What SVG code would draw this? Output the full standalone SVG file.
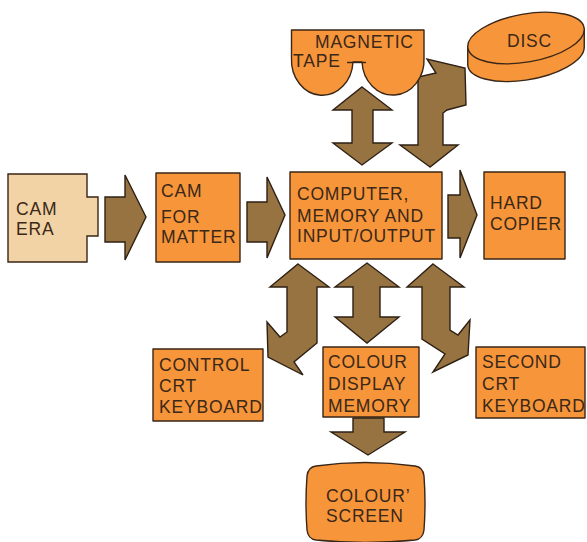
<svg xmlns="http://www.w3.org/2000/svg" width="587" height="542" viewBox="0 0 587 542">
<style>
.box{fill:#f7953b;stroke:#3a2616;stroke-width:1.4;stroke-linejoin:round}
.cam{fill:#f2d3a5;stroke:#3a2616;stroke-width:1.4}
.arrow{fill:#977341;stroke:#2e2014;stroke-width:1.4;stroke-linejoin:miter}
.t{font-family:"Liberation Sans",Arial,sans-serif;font-size:17.5px;letter-spacing:0.8px;fill:#3a2818}
</style>
<rect width="587" height="542" fill="#ffffff"/>
<g id="connectors">
<polygon class="arrow" points="105,197 125,197 125,175 146,217 125,260 125,242 105,242"/>
<polygon class="arrow" points="247,202 267,202 267,177 285,215 267,258 267,242 247,242"/>
<polygon class="arrow" points="448,195 460,195 460,170 477,215 460,258 460,238 448,238"/>
<polygon class="arrow" points="362,87 392,110 373,110 373,143 392,143 362,165 333,143 352,143 352,110 333,110"/>
<polygon class="arrow" points="430,167 400,145 418,145 418,77 436,73 427,59 465,68 466,105 447,110 443,113 443,145 458,145"/>
<polygon class="arrow" points="298,264 329,287 317,287 317,343 294,362 303,375 268,357 267,322 280,337 287,332 287,287 270,287"/>
<polygon class="arrow" points="367,263 399,287 380,287 380,317 399,317 367,343 335,317 353,317 353,287 335,287"/>
<polygon class="arrow" points="433,264 464,287 450,287 450,330 458,335 470,320 468,355 433,372 445,354 422,339 422,287 407,287"/>
<polygon class="arrow" points="353,418 384,418 384,432 405,432 368,455 331,432 353,432"/>
</g>
<g id="camera">
<path class="cam" d="M8,174 H87 V197 H98 V236 H87 V262 H8 Z"/>
<text class="t" x="16" y="215">CAM</text>
<text class="t" x="16" y="235">ERA</text>
</g>
<g id="camformatter">
<rect class="box" x="156" y="173" width="84" height="89"/>
<text class="t" x="161" y="197">CAM</text>
<text class="t" x="161" y="223">FOR</text>
<text class="t" x="161" y="243">MATTER</text>
</g>
<g id="computer">
<rect class="box" x="290" y="172" width="152" height="87"/>
<text class="t" x="297" y="200">COMPUTER,</text>
<text class="t" x="297" y="222">MEMORY AND</text>
<text class="t" x="297" y="242">INPUT/OUTPUT</text>
</g>
<g id="hardcopier">
<rect class="box" x="484" y="172" width="81" height="87"/>
<text class="t" x="490" y="209">HARD</text>
<text class="t" x="490" y="230">COPIER</text>
</g>
<g id="magnetictape">
<path class="box" d="M291.5,30 H424 V58 A31,35 0 0 1 362,62 L353,62 A30.5,35 0 0 1 291.5,58 Z"/>
<line x1="347" y1="62.5" x2="366" y2="62.5" stroke="#3a2616" stroke-width="1.4"/>
<text class="t" x="315" y="48">MAGNETIC</text>
<text class="t" x="293" y="67">TAPE</text>
</g>
<g id="disc">
<path class="box" d="M467.75,46.5 L467.75,64.5 A59,24 -10 0 0 584.25,47.5 L584.25,29.5 Z"/>
<ellipse class="box" cx="526" cy="38" rx="59" ry="24" transform="rotate(-10 526 38)"/>
<text class="t" x="507" y="47">DISC</text>
</g>
<g id="controlcrt">
<rect class="box" x="153" y="349" width="110" height="72"/>
<text class="t" x="159" y="371">CONTROL</text>
<text class="t" x="159" y="392">CRT</text>
<text class="t" x="159" y="413">KEYBOARD</text>
</g>
<g id="colourdisplay">
<rect class="box" x="323" y="347" width="96" height="70"/>
<text class="t" x="328" y="368">COLOUR</text>
<text class="t" x="328" y="390">DISPLAY</text>
<text class="t" x="328" y="412">MEMORY</text>
</g>
<g id="secondcrt">
<rect class="box" x="476" y="347" width="109" height="71"/>
<text class="t" x="482" y="368">SECOND</text>
<text class="t" x="482" y="390">CRT</text>
<text class="t" x="482" y="412">KEYBOARD</text>
</g>
<g id="colourscreen">
<path class="box" d="M316,466 Q365,459 415,466 Q423,467 424,476 Q426,503 424,530 Q423,539 415,540 Q365,545 316,540 Q308,539 307,530 Q305,503 307,476 Q308,467 316,466 Z"/>
<text class="t" x="326" y="502">COLOUR’</text>
<text class="t" x="326" y="522">SCREEN</text>
</g>
</svg>
